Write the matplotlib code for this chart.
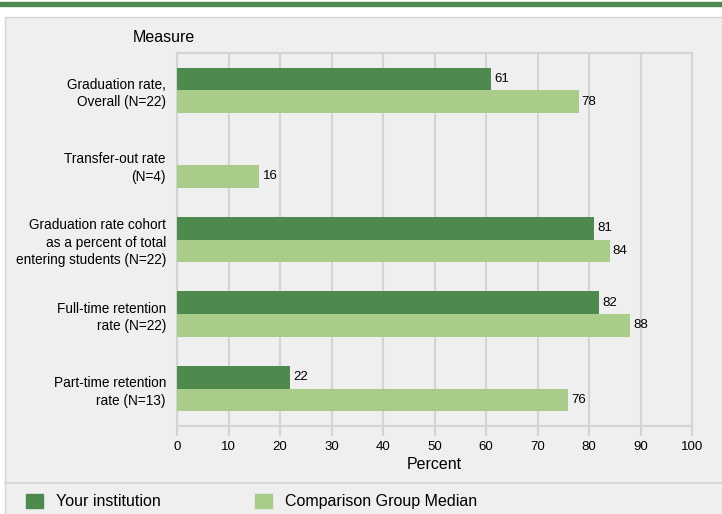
import matplotlib.pyplot as plt
from matplotlib.patches import Rectangle, Patch
from matplotlib.lines import Line2D

# data
measures = ["Graduation rate,\nOverall (N=22)",
            "Transfer-out rate\n(N=4)",
            "Graduation rate cohort\nas a percent of total\nentering students (N=22)",
            "Full-time retention\nrate (N=22)",
            "Part-time retention\nrate (N=13)"]
institution = [61, None, 81, 82, 22]
comparison = [78, 16, 84, 88, 76]
xticks = [0, 10, 20, 30, 40, 50, 60, 70, 80, 90, 100]

dark = "#4e8a4e"
light = "#a9cc8a"
panel = "#efefef"
edge = "#d4d4d4"

plt.rcParams['font.family'] = ['Liberation Sans', 'DejaVu Sans']

fig = plt.figure(figsize=(7.22, 5.14), dpi=100)

# background pieces
fig.patches.append(Rectangle((0, 1 - 6/514), 1, 4/514, transform=fig.transFigure,
                             color=dark, zorder=-2))
fig.patches.append(Rectangle((5/722, -0.01), 1, 1.01 - 17/514, transform=fig.transFigure,
                             facecolor=panel, edgecolor=edge, lw=1, zorder=-2))
fig.lines.append(Line2D([5/722, 1], [1 - 483/514, 1 - 483/514], transform=fig.transFigure,
                        color=edge, lw=1.2, zorder=-1))

ax = fig.add_axes([177/722, 1 - 426/514, 515/722, 373/514])
ax.set_zorder(2)
ax.set_facecolor(panel)

h = 0.305
for i in range(len(measures)):
    if institution[i] is not None:
        ax.barh(i - h/2, institution[i], height=h, color=dark, zorder=3)
        ax.text(institution[i] + 0.6, i - h/2, str(institution[i]), va='center',
                ha='left', fontsize=9.5)
    ax.barh(i + h/2, comparison[i], height=h, color=light, zorder=3)
    ax.text(comparison[i] + 0.6, i + h/2, str(comparison[i]), va='center',
            ha='left', fontsize=9.5)

ax.set_xlim(0, 100)
ax.set_ylim(len(measures) - 0.5, -0.5)
ax.set_xticks(xticks)
ax.set_yticks(range(len(measures)))
ax.set_yticklabels(measures, fontsize=9.8, linespacing=1.3)
ax.tick_params(axis='y', length=0, pad=8)
ax.tick_params(axis='x', length=7, width=1.5, color=edge, labelsize=9.5, pad=4)
ax.grid(axis='x', color=edge, lw=1.5, zorder=0)
for s in ax.spines.values():
    s.set_color(edge)
    s.set_linewidth(1.5)

ax.set_xlabel("Percent", fontsize=11.5, labelpad=3)
fig.text(133/722, 1 - 37/514, "Measure", fontsize=11.5, va='center', ha='left')

handles = [Patch(color=dark, label="Your institution"),
           Patch(color=light, label="Comparison Group Median")]
fig.legend(handles=handles, loc='center left', bbox_to_anchor=(11.6/722, 1 - 501.5/514),
           ncol=2, frameon=False, fontsize=11.5, handlelength=1.06, handleheight=1.06,
           columnspacing=5.95, handletextpad=0.8)

fig.savefig("out.png", dpi=100)
